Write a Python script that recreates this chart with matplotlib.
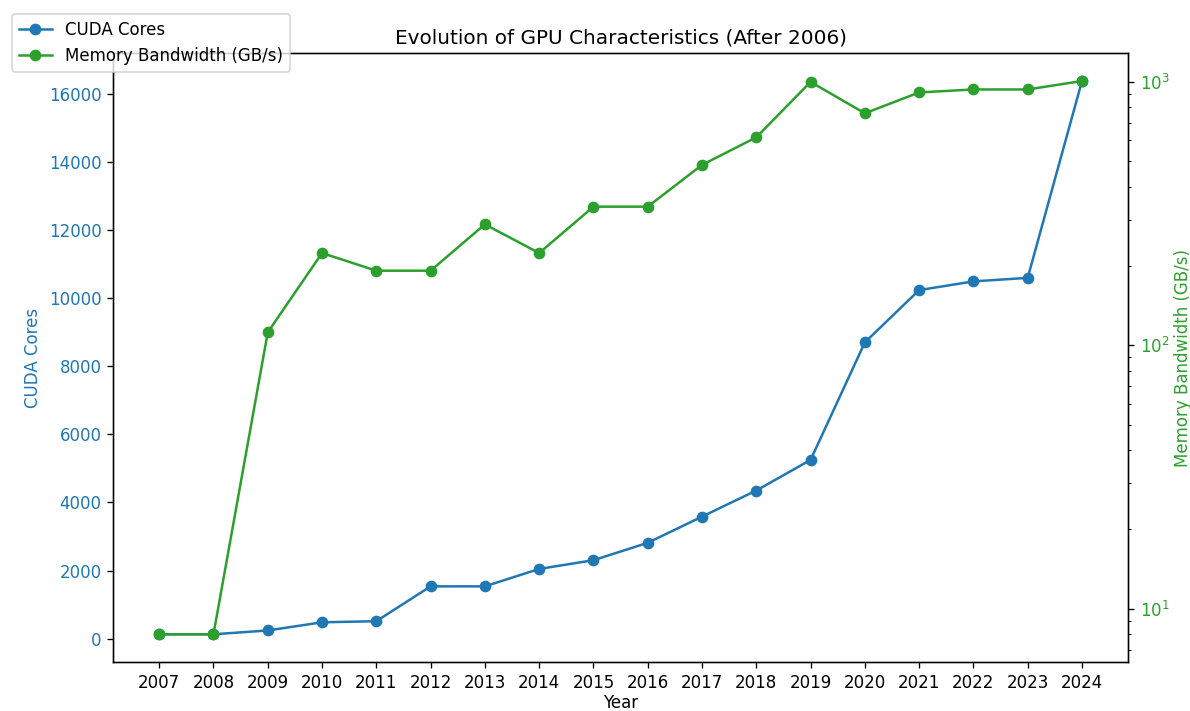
import matplotlib
matplotlib.use('Agg')
import matplotlib.pyplot as plt

years = [2007, 2008, 2009, 2010, 2011, 2012, 2013, 2014, 2015, 2016,
         2017, 2018, 2019, 2020, 2021, 2022, 2023, 2024]
cuda_cores = [128, 128, 240, 480, 512, 1536, 1536, 2048, 2304, 2816,
              3584, 4352, 5250, 8704, 10240, 10496, 10600, 16384]
bandwidth = [8, 8, 112, 224, 192, 192, 288, 224, 336, 336,
             484, 616, 1000, 760, 912, 936, 936, 1008]

fig, ax1 = plt.subplots(figsize=(11.9 / 1.2, 7.11 / 1.2), dpi=120)
fig.subplots_adjust(left=0.095, right=0.948, bottom=0.069, top=0.925)

c1 = 'tab:blue'
c2 = 'tab:green'

ax1.plot(years, cuda_cores, marker='o', color=c1, label='CUDA Cores')
ax1.set_xlabel('Year', labelpad=1.5)
ax1.set_ylabel('CUDA Cores', color=c1)
ax1.tick_params(axis='y', labelcolor=c1)
ax1.set_xticks(years)

ax2 = ax1.twinx()
ax2.plot(years, bandwidth, marker='o', color=c2, label='Memory Bandwidth (GB/s)')
ax2.set_yscale('log')
ax2.set_ylabel('Memory Bandwidth (GB/s)', color=c2, labelpad=2.5)
ax2.tick_params(axis='y', labelcolor=c2)

ax1.set_title('Evolution of GPU Characteristics (After 2006)')
fig.legend(loc='upper left', bbox_to_anchor=(0.003, 0.992))

plt.savefig('out.png')
